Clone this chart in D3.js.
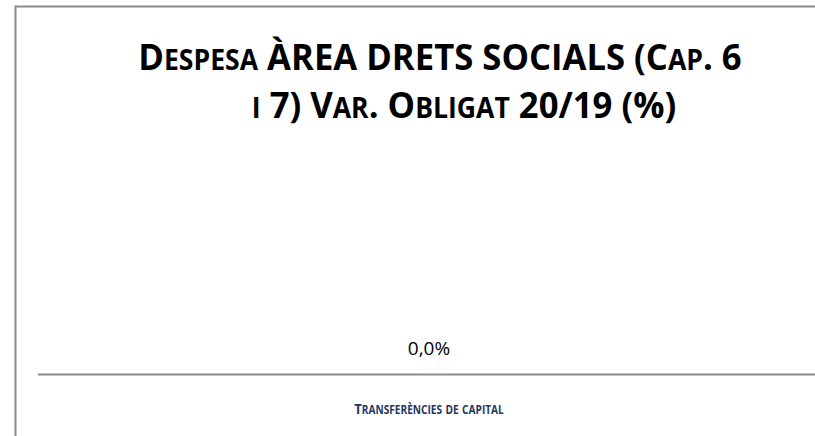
<!DOCTYPE html>
<html>
<head>
<meta charset="utf-8">
<script src="https://cdn.jsdelivr.net/npm/d3@7"></script>
<style>
  body { margin: 0; background: #fff; }
  svg { display: block; font-family: "Open Sans", sans-serif; }
</style>
</head>
<body>
<div id="chart"></div>
<script>
const WIDTH = 815, HEIGHT = 436;

// data
const categories = ["Transferències de capital"];
const values = [0.0];
const titleLines = ["Despesa ÀREA DRETS SOCIALS (Cap. 6", "i 7) Var. Obligat 20/19 (%)"];

const svg = d3.select("#chart").append("svg")
  .attr("width", WIDTH)
  .attr("height", HEIGHT)

// frame
svg.append("path")
  .attr("d", `M15.5,${HEIGHT} V6.5 H${WIDTH}`)
  .attr("fill", "none")
  .attr("stroke", "#8c8c8c")
  .attr("stroke-width", 2)

// small caps helper: lowercase letters drawn as smaller capitals
function smallCaps(textSel, str, big, small) {
  const parts = str.match(/[a-zà-ÿ]+|[^a-zà-ÿ]+/g);
  parts.forEach(p => {
    const lower = /[a-zà-ÿ]/.test(p[0]);
    textSel.append("tspan")
      .attr("font-size", lower ? small : big)
      .text(lower ? p.toUpperCase() : p);
  });
}

// title, a bit narrowed to look like the original condensed face
const titleX = [440, 464];
titleLines.forEach((line, i) => {
  const t = svg.append("text")
    .attr("transform", `translate(${titleX[i]},${70 + i * 48}) scale(0.95,1)`)
    .attr("text-anchor", "middle")
    .attr("font-weight", "bold")
    .attr("fill", "#000")
  smallCaps(t, line, 36.5, 28);
});

const margin = {left: 38, right: -5, top: 150, bottom: 62};

const x = d3.scaleBand()
  .domain(categories)
  .range([margin.left, WIDTH - margin.right])
  .padding(0.3);

const y = d3.scaleLinear()
  .domain([-1, 1])
  .range([HEIGHT - margin.bottom, margin.top]);

const y0 = HEIGHT - margin.bottom;

// bars (zero height here)
svg.selectAll("rect.bar")
  .data(values)
  .join("rect")
  .attr("class", "bar")
  .attr("x", (d, i) => x(categories[i]))
  .attr("width", x.bandwidth())
  .attr("y", d => Math.min(y0, y0 - (y(0) - y(d))))
  .attr("height", d => Math.abs(y(0) - y(d)))
  .attr("fill", "#c00000")

// axis line
const xAxis = svg.append("g")
  .attr("transform", `translate(0,${y0})`)
  .call(d3.axisBottom(x).tickSize(0).tickFormat("").tickSizeOuter(0))
xAxis.select(".domain")
  .attr("d", `M${margin.left},0.5H${WIDTH}`)
  .attr("stroke", "#8c8c8c")
  .attr("stroke-width", 2)

// value labels
svg.selectAll("text.val")
  .data(values)
  .join("text")
  .attr("class", "val")
  .attr("x", (d, i) => x(categories[i]) + x.bandwidth() / 2)
  .attr("y", y0 - 19)
  .attr("text-anchor", "middle")
  .attr("font-size", 19)
  .attr("fill", "#000")
  .text(d => d.toFixed(1).replace(".", ",") + "%")

// category labels
categories.forEach(c => {
  const t = svg.append("text")
    .attr("transform", `translate(${x(c) + x.bandwidth() / 2},${y0 + 40}) scale(0.88,1)`)
    .attr("text-anchor", "middle")
    .attr("font-weight", "bold")
    .attr("fill", "#1f3864")
  smallCaps(t, c, 15, 11.5);
});
</script>
</body>
</html>
